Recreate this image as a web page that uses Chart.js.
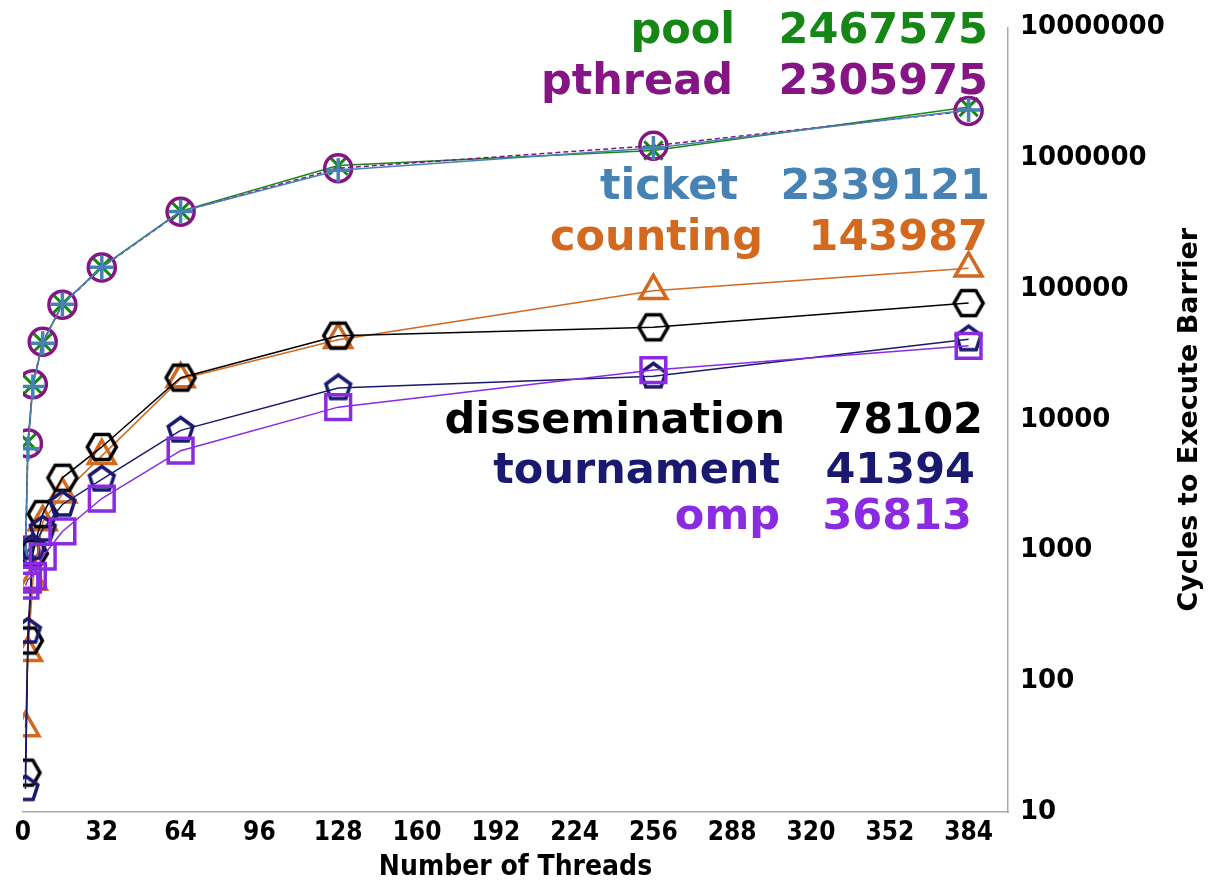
<!DOCTYPE html>
<html>
<head>
<meta charset="utf-8">
<script src="https://cdn.jsdelivr.net/npm/chart.js@4.4.1/dist/chart.umd.min.js"></script>
<style>
  html, body { margin: 0; padding: 0; background: #fff; }
</style>
</head>
<body>
<canvas id="chartCanvas" width="1208" height="882"></canvas>
<script>
const threads = [1, 2, 4, 8, 16, 32, 64, 128, 256, 384];
const barrierNames = ['pool', 'pthread', 'ticket', 'counting', 'dissemination', 'tournament', 'omp'];

const poolCycles = [950, 6800, 18500, 39000, 77000, 148000, 395000, 880000, 1150000, 2467575];
const pthreadCycles = [1000, 6600, 18700, 39500, 76000, 146000, 390000, 840000, 1250000, 2305975];
const ticketCycles = [900, 6000, 18000, 38500, 76500, 147000, 392000, 810000, 1200000, 2339121];
const countingCycles = [44, 165, 580, 1650, 2700, 5300, 20500, 41000, 97000, 143987];
const disseminationCycles = [20, 205, 950, 1900, 3600, 6200, 21000, 44000, 51000, 78102];
const tournamentCycles = [15, 240, 1050, 1450, 2250, 3500, 8300, 17500, 21500, 41394];
const ompCycles = [540, 600, 640, 900, 1400, 2500, 5800, 12500, 24000, 36813];

const xTickValues = [0, 32, 64, 96, 128, 160, 192, 224, 256, 288, 320, 352, 384];
const yTickValues = [10, 100, 1000, 10000, 100000, 1000000, 10000000];

const colors = ['#168616', '#851585', '#4682b4', '#d2691e', '#000000', '#191970', '#8a2be2'];
const plainFont = '"DejaVu Sans", sans-serif';
const narrowFont = '"DejaVu Sans Condensed", "DejaVu Sans", sans-serif';

// hollow polygon markers (hexagon / pentagon) as little canvases
function polygonMarker(sides, r, startAngle, color, lw) {
  const size = Math.ceil(2 * r + 2 * lw);
  const c = document.createElement('canvas');
  c.width = size; c.height = size;
  const g = c.getContext('2d');
  g.strokeStyle = color;
  g.lineWidth = lw;
  g.lineJoin = 'miter';
  g.beginPath();
  for (let k = 0; k < sides; k++) {
    const a = startAngle + k * 2 * Math.PI / sides;
    const px = size / 2 + r * Math.cos(a);
    const py = size / 2 + r * Math.sin(a);
    if (k === 0) g.moveTo(px, py); else g.lineTo(px, py);
  }
  g.closePath();
  g.stroke();
  return c;
}

const hexagon = polygonMarker(6, 14.5, 0, colors[4], 3.5);
const pentagon = polygonMarker(5, 13, -Math.PI / 2, colors[5], 3.5);

const seriesValues = [poolCycles, pthreadCycles, ticketCycles, countingCycles,
  disseminationCycles, tournamentCycles, ompCycles];
const markerStyles = ['crossRot', 'circle', 'cross', 'triangle', hexagon, pentagon, 'rect'];
const markerRadius = [13, 13.5, 12, 15.5, 14, 13, 17.5];

const datasets = barrierNames.map((name, i) => ({
  label: name,
  data: threads.map((t, j) => ({ x: t, y: seriesValues[i][j] })),
  borderColor: colors[i],
  borderWidth: 1.5,
  borderDash: name === 'pthread' ? [5, 3] : [],
  pointStyle: markerStyles[i],
  pointRadius: markerRadius[i],
  pointBorderColor: colors[i],
  pointBackgroundColor: 'rgba(0,0,0,0)',
  pointBorderWidth: name === 'pool' ? 3 : 3.5,
  tension: 0,
  clip: 0,
  order: barrierNames.length - 1 - i,
}));

// big coloured "name value" labels and the y axis title
const textLayer = {
  id: 'textLayer',
  afterDatasetsDraw(chart) {
    const ctx = chart.ctx;
    const area = chart.chartArea;
    const rows = [
      [735, 988, 43], [733, 988, 94], [738, 990, 199], [763, 988, 250],
      [785, 983, 433], [780, 975, 483], [780, 972, 529],
    ];
    ctx.save();
    ctx.font = 'bold 43px ' + plainFont;
    ctx.textAlign = 'right';
    ctx.textBaseline = 'alphabetic';
    rows.forEach((r, i) => {
      const vals = seriesValues[i];
      ctx.fillStyle = colors[i];
      ctx.fillText(barrierNames[i], r[0], r[2]);
      ctx.fillText(String(vals[vals.length - 1]), r[1], r[2]);
    });
    ctx.translate(area.right + 182, (area.top + area.bottom) / 2);
    ctx.rotate(-Math.PI / 2);
    ctx.textAlign = 'center';
    ctx.textBaseline = 'middle';
    ctx.fillStyle = '#000';
    ctx.font = 'bold 27px ' + plainFont;
    ctx.fillText('Cycles to Execute Barrier', 0, 0);
    ctx.restore();
  }
};

new Chart(document.getElementById('chartCanvas'), {
  type: 'line',
  data: { datasets: datasets },
  plugins: [textLayer],
  options: {
    responsive: false,
    animation: false,
    devicePixelRatio: 1,
    layout: { padding: { left: 23, top: 25, right: 0, bottom: 0 } },
    plugins: { legend: { display: false }, tooltip: { enabled: false } },
    scales: {
      x: {
        type: 'linear',
        min: 0,
        max: 400,
        grid: { display: false, drawTicks: false },
        border: { display: true, color: '#a8a8a8', width: 1.5 },
        afterBuildTicks: (s) => { s.ticks = xTickValues.map(v => ({ value: v })); },
        afterFit: (s) => { s.height = 70; },
        ticks: {
          padding: 6,
          color: '#000',
          maxRotation: 0,
          autoSkip: false,
          font: { family: narrowFont, weight: 'bold', size: 26 },
        },
        title: {
          display: true,
          text: 'Number of Threads',
          color: '#000',
          padding: { top: 0, bottom: 0 },
          font: { family: narrowFont, weight: 'bold', size: 28, lineHeight: 1.0 },
        },
      },
      y: {
        type: 'logarithmic',
        position: 'right',
        min: 10,
        max: 10000000,
        grid: { display: false, drawTicks: false },
        border: { display: true, color: '#a8a8a8', width: 1.5 },
        afterBuildTicks: (s) => { s.ticks = yTickValues.map(v => ({ value: v })); },
        afterFit: (s) => { s.width = 200; },
        ticks: {
          padding: 12,
          color: '#000',
          autoSkip: false,
          callback: (v) => String(v),
          font: { family: plainFont, weight: 'bold', size: 26 },
        },
      },
    },
  },
});
</script>
</body>
</html>
